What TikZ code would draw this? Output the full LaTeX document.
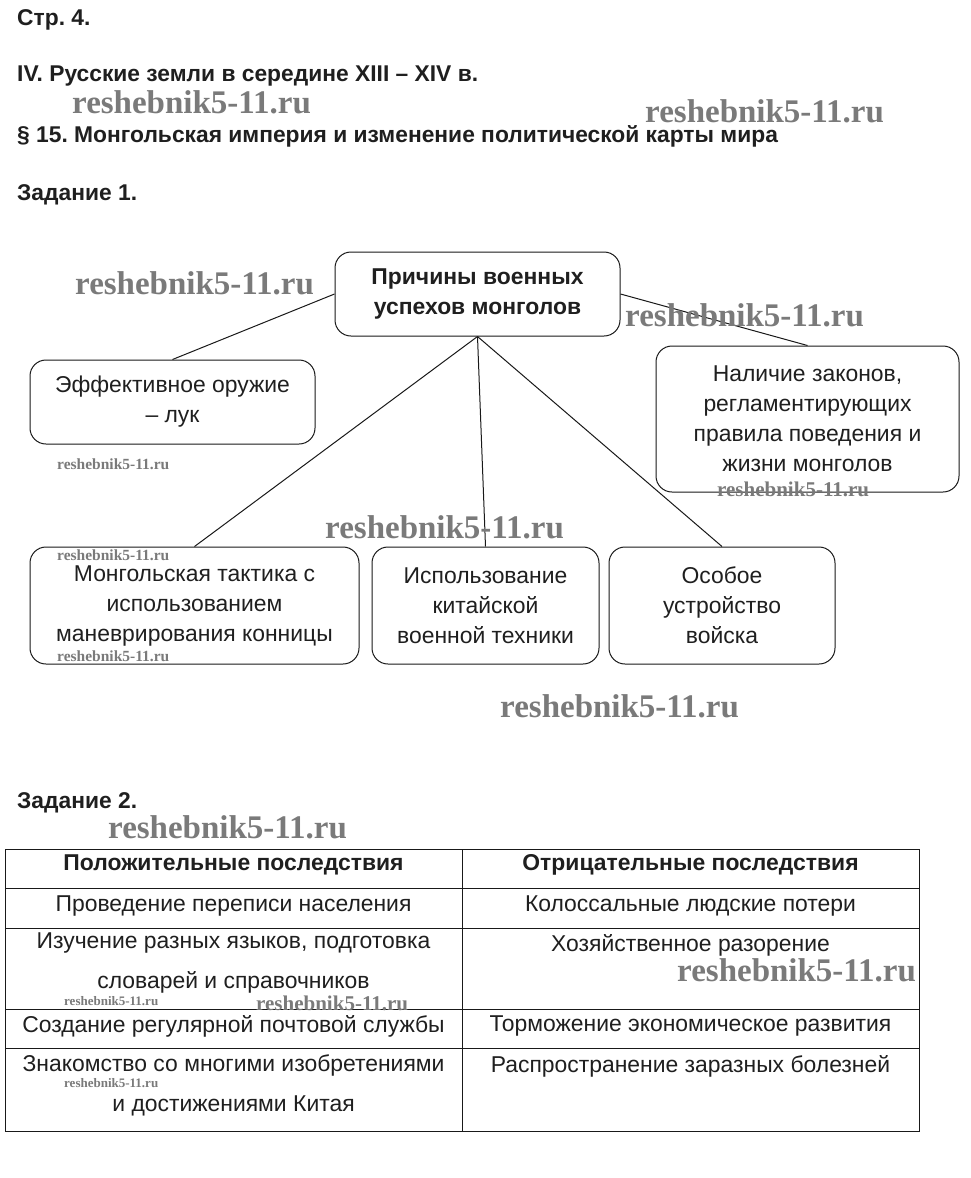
\documentclass[tikz,border=0pt]{standalone}
\usepackage{fontspec}
\setmainfont{Liberation Sans}
\newfontfamily\wmfont{Liberation Serif}
\frenchspacing
\begin{document}
\begin{tikzpicture}[x=1pt,y=-1pt,
  head/.style={inner sep=0, anchor=west, text=black!88, font=\bfseries\fontsize{22.8}{30}\selectfont},
  box/.style={draw=black!90, line width=1pt, rounded corners=16pt, align=center, text=black!88, font=\fontsize{22.9}{30}\selectfont, inner sep=0},
  tbox/.style={box, font=\bfseries\fontsize{22.9}{30}\selectfont},
  conn/.style={line width=1pt, draw=black!90},
  gridline/.style={line width=1pt, draw=black!90},
  cell/.style={inner sep=0, align=center, text=black!88, font=\fontsize{22.9}{40}\selectfont},
  hcell/.style={cell, font=\bfseries\fontsize{22.9}{40}\selectfont},
  wmL/.style={inner sep=0, anchor=west, text=black!52, font=\wmfont\bfseries\fontsize{33}{33}\selectfont},
  wmM/.style={wmL, font=\wmfont\bfseries\fontsize{21}{21}\selectfont},
  wmS/.style={wmL, font=\wmfont\bfseries\fontsize{15.5}{16}\selectfont},
  wmXS/.style={wmL, font=\wmfont\bfseries\fontsize{13}{13}\selectfont}
]
\path[use as bounding box, fill=white] (0,0) rectangle (971,1178);

% headings
\node[head] (p4) at (17,20) {Стр. 4.};
\node[head] (ch) at (17,76) {IV. Русские земли в середине XIII – XIV в.};
\node[head] (par) at (17,136) {§ 15. Монгольская империя и изменение политической карты мира};
\node[head] (z1) at (17,195) {Задание 1.};
\node[head] (z2) at (17,803) {Задание 2.};

% scheme
\node[tbox, minimum width=285, minimum height=84] (top) at (477.5,294) {Причины военных\\успехов монголов};
\node[box, minimum width=285, minimum height=84] (left) at (172.5,402) {Эффективное оружие\\– лук};
\node[box, minimum width=303, minimum height=146] (right) at (807.5,419) {Наличие законов,\\регламентирующих\\правила поведения и\\жизни монголов};
\node[box, minimum width=329, minimum height=117] (b1) at (194.5,605.5) {Монгольская тактика с\\использованием\\маневрирования конницы};
\node[box, minimum width=227, minimum height=117] (b2) at (485.5,605.5) {Использование\\китайской\\военной техники};
\node[box, minimum width=226, minimum height=117] (b3) at (722,605.5) {Особое\\устройство\\войска};

\draw[conn] (top.west) -- (left.north);
\draw[conn] (top.east) -- (right.north);
\draw[conn] (top.south) -- (b1.north);
\draw[conn] (top.south) -- (b2.north);
\draw[conn] (top.south) -- (b3.north);

% table
\draw[gridline] (5,849) rectangle (919,1131);
\draw[gridline] (462,849) -- (462,1131);
\foreach \yy in {888,928,1009,1048} \draw[gridline] (5,\yy) -- (919,\yy);

\node[hcell] (h1) at (233.5,865) {Положительные последствия};
\node[hcell] (h2) at (690.5,865) {Отрицательные последствия};
\node[cell] (a1) at (233.5,906) {Проведение переписи населения};
\node[cell] (b1t) at (690.5,906) {Колоссальные людские потери};
\node[cell, anchor=north] (a2) at (233.5,933) {Изучение разных языков, подготовка\\словарей и справочников};
\node[cell] (b2t) at (690.5,945) {Хозяйственное разорение};
\node[cell] (a3) at (233.5,1026) {Создание регулярной почтовой службы};
\node[cell] (b3t) at (690.5,1026) {Торможение экономическое развития};
\node[cell, anchor=north] (a4) at (233.5,1054) {Знакомство со многими изобретениями\\и достижениями Китая};
\node[cell] (b4t) at (690.5,1066) {Распространение заразных болезней};

% watermarks
\node[wmL] (w1) at (72,102) {reshebnik5-11.ru};
\node[wmL] (w2) at (645,111) {reshebnik5-11.ru};
\node[wmL] (w3) at (75,283) {reshebnik5-11.ru};
\node[wmL] (w4) at (625,315) {reshebnik5-11.ru};
\node[wmS] (w5) at (57,464) {reshebnik5-11.ru};
\node[wmM] (w6) at (717,489) {reshebnik5-11.ru};
\node[wmL] (w7) at (325,527) {reshebnik5-11.ru};
\node[wmS] (w8) at (57,555) {reshebnik5-11.ru};
\node[wmS] (w9) at (57,656) {reshebnik5-11.ru};
\node[wmL] (w10) at (500,706) {reshebnik5-11.ru};
\node[wmL] (w11) at (108,827) {reshebnik5-11.ru};
\node[wmL] (w12) at (677,970) {reshebnik5-11.ru};
\node[wmXS] (w13) at (64,1001) {reshebnik5-11.ru};
\node[wmM] (w14) at (256,1003) {reshebnik5-11.ru};
\node[wmXS] (w15) at (64,1083) {reshebnik5-11.ru};
\end{tikzpicture}
\end{document}
